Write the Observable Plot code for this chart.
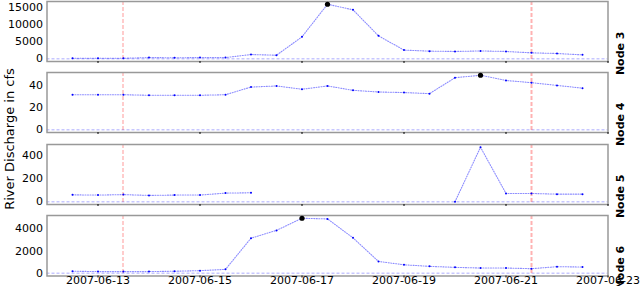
<!DOCTYPE html>
<html><head><meta charset="utf-8">
<script src="https://cdn.jsdelivr.net/npm/d3@7"></script>
<script src="https://cdn.jsdelivr.net/npm/@observablehq/plot@0.6"></script>
<style>
body{margin:0;background:#fff;}
#chart{position:relative;width:640px;height:286px;overflow:hidden;font-family:"DejaVu Sans",sans-serif;background:#fff;}
#chart svg{position:absolute;left:0;overflow:visible;}
#ylabel{position:absolute;left:9px;top:139px;transform:translate(-50%,-50%) rotate(-90deg);font-size:13px;white-space:nowrap;color:#000;}
</style></head><body>
<div id="chart"><div id="ylabel">River Discharge in cfs</div></div>
<script>
const times = ["2007-06-12 12:00","2007-06-13 00:00","2007-06-13 12:00","2007-06-14 00:00","2007-06-14 12:00",
  "2007-06-15 00:00","2007-06-15 12:00","2007-06-16 00:00","2007-06-16 12:00","2007-06-17 00:00",
  "2007-06-17 12:00","2007-06-18 00:00","2007-06-18 12:00","2007-06-19 00:00","2007-06-19 12:00",
  "2007-06-20 00:00","2007-06-20 12:00","2007-06-21 00:00","2007-06-21 12:00","2007-06-22 00:00","2007-06-22 12:00"];
const nodeNames = ["Node 3","Node 4","Node 5","Node 6"];
const node3 = [150,150,150,350,300,350,350,1250,1050,6450,16050,14400,6750,2550,2250,2150,2300,2150,1750,1550,1150];
const node4 = [32,32,32,31.5,31.5,31.5,32,39,40,37,40,36,34.5,34,33,47.5,49.8,45,43,40.5,38];
const node5 = [60,58,62,55,58,58,75,78,null,null,null,null,null,null,null,0,472,72,72,66,66];
const node6 = [180,150,150,150,180,235,350,3150,3850,4940,4880,3180,1060,760,620,530,470,470,410,590,560];
const peakIndex = [10,16,null,9];
const yTicks = [[0,5000,10000,15000],[0,20,40],[0,200,400],[0,2000,4000]];
const xTickLabels = ["2007-06-13","2007-06-15","2007-06-17","2007-06-19","2007-06-21","2007-06-23"];
const xDomain = ["2007-06-12 00:00","2007-06-23 00:00"];
const eventTimes = ["2007-06-13 12:00","2007-06-21 12:00"];

const parse = d3.utcParse("%Y-%m-%d %H:%M");
const parseDay = d3.utcParse("%Y-%m-%d");
const dates = times.map(parse);
const xTicks = xTickLabels.map(parseDay);
const series = [node3,node4,node5,node6];
const panels = [{T:0.5,B:60.5},{T:72,B:132},{T:143.5,B:203.5},{T:214.5,B:275}];
const chart = document.getElementById("chart");

series.forEach((vals,i)=>{
  const data = dates.map((d,j)=>({date:d, value:vals[j]}));
  const max = d3.max(vals);
  const pad = max*0.05;
  const {T,B} = panels[i];
  const last = i===3;
  const mt = 2, mb = last ? 11 : 6;
  const marks = [
    Plot.ruleY([0], {stroke:"#0000ff", strokeOpacity:0.22, strokeWidth:1.5, strokeDasharray:"3,2"}),
    Plot.ruleX([parse(eventTimes[0])], {stroke:"#ff0000", strokeOpacity:0.4, strokeWidth:1, strokeDasharray:"4,2", dx:-0.5}),
    Plot.ruleX([parse(eventTimes[1])], {stroke:"#ff0000", strokeOpacity:0.3, strokeWidth:2, strokeDasharray:"4,2"}),
    Plot.line(data, {x:"date", y:"value", stroke:"#0000ff", strokeOpacity:0.45, strokeWidth:1.1, strokeDasharray:"1,1.5"}),
    Plot.dot(data, {x:"date", y:"value", r:1, fill:"#0000ff", stroke:null}),
    Plot.frame({stroke:"#999", strokeWidth:1.5}),
    Plot.axisY({ticks:yTicks[i], tickSize:0, tickPadding:4, tickFormat:"d", label:null, fontSize:11}),
    Plot.axisX({ticks:xTicks, tickSize:2, tickPadding:-1.5, tickFormat: last ? d3.utcFormat("%Y-%m-%d") : () => "", label:null, fontSize:11}),
    Plot.text([nodeNames[i]], {frameAnchor:"right", dx:12, rotate:-90, fontWeight:"bold", fontSize:11, fill:"#000"})
  ];
  if (peakIndex[i] != null) marks.push(Plot.dot([data[peakIndex[i]]], {x:"date", y:"value", r:2.6, fill:"#000", stroke:null}));
  const plot = Plot.plot({
    width:640, height:B-T+mt+mb, marginTop:mt, marginBottom:mb, marginLeft:46.5, marginRight:32.5,
    style:{fontFamily:"DejaVu Sans", fontSize:"11px", background:"transparent", overflow:"visible", color:"#000"},
    x:{type:"utc", domain:xDomain.map(parse)},
    y:{domain:[-pad, max+pad]},
    marks
  });
  plot.style.top = (T-mt)+"px";
  chart.appendChild(plot);
});
</script>
</body></html>
